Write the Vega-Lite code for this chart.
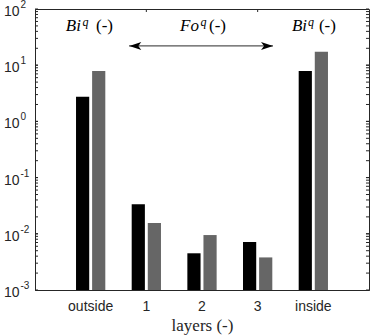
{
  "$schema": "https://vega.github.io/schema/vega-lite/v6.json",
  "width": 334,
  "height": 281,
  "autosize": {"type": "none"},
  "padding": {"left": 35, "top": 9, "right": 4, "bottom": 45},
  "background": "white",
  "config": {
    "view": {"stroke": "#262626", "strokeWidth": 1},
    "axis": {
      "grid": false,
      "domainColor": "#262626",
      "tickColor": "#262626",
      "labelColor": "#262626",
      "titleColor": "#262626",
      "labelFont": "Liberation Sans",
      "labelFontSize": 14,
      "titleFont": "Liberation Serif",
      "titleFontSize": 17,
      "titleFontWeight": "normal"
    }
  },
  "datasets": {
    "bars": [
      {"layer": "outside", "series": "A", "value": 2.75},
      {"layer": "outside", "series": "B", "value": 7.9},
      {"layer": "1", "series": "A", "value": 0.0335},
      {"layer": "1", "series": "B", "value": 0.0156},
      {"layer": "2", "series": "A", "value": 0.0045},
      {"layer": "2", "series": "B", "value": 0.0095},
      {"layer": "3", "series": "A", "value": 0.00715},
      {"layer": "3", "series": "B", "value": 0.0038},
      {"layer": "inside", "series": "A", "value": 7.9},
      {"layer": "inside", "series": "B", "value": 17.4}
    ],
    "yticks": [
      {"value": 0.002}, {"value": 0.003}, {"value": 0.004}, {"value": 0.005}, {"value": 0.006}, {"value": 0.007}, {"value": 0.008}, {"value": 0.009},
      {"value": 0.01}, {"value": 0.02}, {"value": 0.03}, {"value": 0.04}, {"value": 0.05}, {"value": 0.06}, {"value": 0.07}, {"value": 0.08}, {"value": 0.09},
      {"value": 0.1}, {"value": 0.2}, {"value": 0.3}, {"value": 0.4}, {"value": 0.5}, {"value": 0.6}, {"value": 0.7}, {"value": 0.8}, {"value": 0.9},
      {"value": 1}, {"value": 2}, {"value": 3}, {"value": 4}, {"value": 5}, {"value": 6}, {"value": 7}, {"value": 8}, {"value": 9},
      {"value": 10}, {"value": 20}, {"value": 30}, {"value": 40}, {"value": 50}, {"value": 60}, {"value": 70}, {"value": 80}, {"value": 90}
    ],
    "exps": [
      {"value": 100, "e": "2"},
      {"value": 10, "e": "1"},
      {"value": 1, "e": "0"},
      {"value": 0.1, "e": "-1"},
      {"value": 0.01, "e": "-2"},
      {"value": 0.001, "e": "-3"}
    ],
    "topticks": [{"px": 2}, {"px": 4}],
    "italic": [
      {"px": 0.826, "value": 40, "t": "Bi"},
      {"px": 2.946, "value": 40, "t": "Fo"},
      {"px": 4.886, "value": 40, "t": "Bi"}
    ],
    "sup": [
      {"px": 0.853, "value": 50, "t": "q"},
      {"px": 2.973, "value": 50, "t": "q"},
      {"px": 4.904, "value": 50, "t": "q"}
    ],
    "paren": [
      {"px": 1.096, "value": 40, "t": "(-)"},
      {"px": 3.126, "value": 40, "t": "(-)"},
      {"px": 5.1, "value": 40, "t": "(-)"}
    ],
    "arrow": [{"px": 1.689, "px2": 4.275, "value": 22}],
    "headL": [{"px": 1.802, "value": 22}],
    "headR": [{"px": 4.168, "value": 22}]
  },
  "layer": [
    {
      "data": {"name": "bars"},
      "mark": {"type": "bar"},
      "encoding": {
        "x": {
          "field": "layer", "type": "nominal",
          "sort": ["outside", "1", "2", "3", "inside"],
          "scale": {"paddingInner": 0.474, "paddingOuter": 0.737},
          "axis": {"orient": "bottom", "title": "layers (-)", "labelAngle": 0, "ticks": false, "labelPadding": 9, "titlePadding": 4}
        },
        "xOffset": {"field": "series", "type": "nominal", "scale": {"paddingInner": 0.18}},
        "y": {
          "field": "value", "type": "quantitative", "stack": null,
          "scale": {"type": "log", "domain": [0.001, 100], "nice": false},
          "axis": {
            "orient": "left", "title": null,
            "values": [0.001, 0.01, 0.1, 1, 10, 100],
            "ticks": false,
            "labelPadding": 16,
            "labelOffset": 2.5,
            "labelExpr": "'10'"
          }
        },
        "color": {"field": "series", "type": "nominal", "scale": {"domain": ["A", "B"], "range": ["#000000", "#666666"]}, "legend": null}
      }
    },
    {
      "data": {"name": "yticks"},
      "mark": {"type": "rule", "color": "#262626", "strokeWidth": 1},
      "encoding": {
        "x": {"datum": 0, "type": "quantitative", "scale": {"domain": [0, 6], "nice": false, "zero": false}, "axis": null},
        "x2": {"datum": 0.054},
        "y": {"field": "value", "type": "quantitative", "axis": null}
      }
    },
    {
      "data": {"name": "yticks"},
      "mark": {"type": "rule", "color": "#262626", "strokeWidth": 1},
      "encoding": {
        "x": {"datum": 5.946, "type": "quantitative", "scale": {"domain": [0, 6], "nice": false, "zero": false}, "axis": null},
        "x2": {"datum": 6},
        "y": {"field": "value", "type": "quantitative", "axis": null}
      }
    },
    {
      "data": {"name": "exps"},
      "mark": {"type": "rule", "color": "#262626", "strokeWidth": 1},
      "encoding": {
        "x": {"datum": 0, "type": "quantitative", "scale": {"domain": [0, 6], "nice": false, "zero": false}, "axis": null},
        "x2": {"datum": 0.054},
        "y": {"field": "value", "type": "quantitative", "axis": null}
      }
    },
    {
      "data": {"name": "exps"},
      "mark": {"type": "rule", "color": "#262626", "strokeWidth": 1},
      "encoding": {
        "x": {"datum": 5.946, "type": "quantitative", "scale": {"domain": [0, 6], "nice": false, "zero": false}, "axis": null},
        "x2": {"datum": 6},
        "y": {"field": "value", "type": "quantitative", "axis": null}
      }
    },
    {
      "data": {"name": "topticks"},
      "mark": {"type": "rule", "color": "#262626", "strokeWidth": 1},
      "encoding": {
        "x": {"field": "px", "type": "quantitative", "scale": {"domain": [0, 6], "nice": false, "zero": false}, "axis": null},
        "y": {"datum": 100, "type": "quantitative", "axis": null},
        "y2": {"datum": 88.4}
      }
    },
    {
      "data": {"name": "exps"},
      "mark": {"type": "text", "align": "left", "baseline": "alphabetic", "font": "Liberation Sans", "fontSize": 10, "dy": -1, "color": "#262626"},
      "encoding": {
        "x": {"datum": -0.26, "type": "quantitative", "scale": {"domain": [0, 6], "nice": false, "zero": false}, "axis": null},
        "y": {"field": "value", "type": "quantitative", "axis": null},
        "text": {"field": "e"}
      }
    },
    {
      "data": {"name": "italic"},
      "mark": {"type": "text", "align": "right", "baseline": "alphabetic", "font": "Liberation Serif", "fontStyle": "italic", "fontSize": 17, "color": "#000000"},
      "encoding": {
        "x": {"field": "px", "type": "quantitative", "scale": {"domain": [0, 6], "nice": false, "zero": false}, "axis": null},
        "y": {"field": "value", "type": "quantitative", "axis": null},
        "text": {"field": "t"}
      }
    },
    {
      "data": {"name": "sup"},
      "mark": {"type": "text", "align": "left", "baseline": "alphabetic", "font": "Liberation Serif", "fontStyle": "italic", "fontSize": 12, "color": "#000000"},
      "encoding": {
        "x": {"field": "px", "type": "quantitative", "scale": {"domain": [0, 6], "nice": false, "zero": false}, "axis": null},
        "y": {"field": "value", "type": "quantitative", "axis": null},
        "text": {"field": "t"}
      }
    },
    {
      "data": {"name": "paren"},
      "mark": {"type": "text", "align": "left", "baseline": "alphabetic", "font": "Liberation Serif", "fontSize": 17, "color": "#000000"},
      "encoding": {
        "x": {"field": "px", "type": "quantitative", "scale": {"domain": [0, 6], "nice": false, "zero": false}, "axis": null},
        "y": {"field": "value", "type": "quantitative", "axis": null},
        "text": {"field": "t"}
      }
    },
    {
      "data": {"name": "arrow"},
      "mark": {"type": "rule", "color": "#555555", "strokeWidth": 1.3},
      "encoding": {
        "x": {"field": "px", "type": "quantitative", "scale": {"domain": [0, 6], "nice": false, "zero": false}, "axis": null},
        "x2": {"field": "px2"},
        "y": {"field": "value", "type": "quantitative", "axis": null}
      }
    },
    {
      "data": {"name": "headL"},
      "mark": {"type": "point", "filled": true, "color": "#000000", "opacity": 1, "size": 144, "shape": "M -1 0 L 1 -0.67 L 0.5 0 L 1 0.67 Z"},
      "encoding": {
        "x": {"field": "px", "type": "quantitative", "scale": {"domain": [0, 6], "nice": false, "zero": false}, "axis": null},
        "y": {"field": "value", "type": "quantitative", "axis": null}
      }
    },
    {
      "data": {"name": "headR"},
      "mark": {"type": "point", "filled": true, "color": "#000000", "opacity": 1, "size": 144, "shape": "M 1 0 L -1 -0.67 L -0.5 0 L -1 0.67 Z"},
      "encoding": {
        "x": {"field": "px", "type": "quantitative", "scale": {"domain": [0, 6], "nice": false, "zero": false}, "axis": null},
        "y": {"field": "value", "type": "quantitative", "axis": null}
      }
    }
  ],
  "resolve": {"scale": {"x": "independent"}, "axis": {"x": "independent", "y": "independent"}}
}
